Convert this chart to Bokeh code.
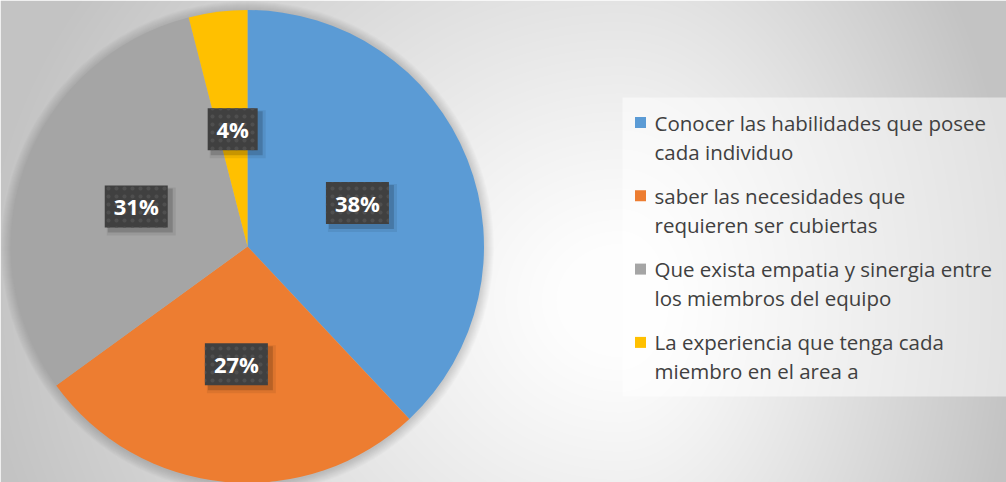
import numpy as np
from bokeh.plotting import figure
from bokeh.models import Range1d, ColumnDataSource
from bokeh.embed import file_html
from bokeh.resources import INLINE
from bokeh.core.properties import value

# ---- data ----
categories = [
    "Conocer las habilidades que posee cada individuo",
    "saber las necesidades que requieren ser cubiertas",
    "Que exista empatia y sinergia entre los miembros del equipo",
    "La experiencia que tenga cada miembro en el area a",
]
legend_line1 = ["Conocer las habilidades que posee", "saber las necesidades que",
                "Que exista empatia y sinergia entre", "La experiencia que tenga cada"]
legend_line2 = ["cada individuo", "requieren ser cubiertas",
                "los miembros del equipo", "miembro en el area a"]
values = [38, 27, 31, 4]
labels = ["38%", "27%", "31%", "4%"]
colors = ["#5B9BD5", "#ED7D31", "#A5A5A5", "#FFC000"]

# ---- figure (data units == screen pixels, y flipped via helper) ----
W, H = 1006, 482
p = figure(width=W, height=H, x_range=Range1d(0, W), y_range=Range1d(0, H),
           output_backend="svg", toolbar_location=None, min_border=0)
p.axis.visible = False
p.grid.visible = False
p.outline_line_color = None
p.background_fill_color = None
p.border_fill_color = None


def sy(Y):
    return H - np.asarray(Y, dtype=float)


# background gradient
Xs = np.arange(W) + 0.5
Ys = H - np.arange(H) - 0.5
XX, YY = np.meshgrid(Xs, Ys)
dx = XX - 620.0
dx = np.where(dx < 0, dx * 0.62, dx)
dy = (YY - 300.0) * 0.7
d = np.sqrt(dx ** 2 + dy ** 2)
t = np.clip((d - 40) / 360.0, 0, 1)
b = (253 - 58 * t ** 1.1).astype(np.uint8)
img = np.empty((H, W), dtype=np.uint32)
view = img.view(dtype=np.uint8).reshape((H, W, 4))
view[..., 0] = b
view[..., 1] = b
view[..., 2] = b
view[..., 3] = 255
p.image_rgba(image=[img], x=0, y=0, dw=W, dh=H)

# pie geometry
cx, cy, R = 247.0, float(sy(246)), 236.5

# soft shadow around pie
for k in range(1, 11):
    p.circle(x=cx, y=cy - 1, radius=R + k, fill_color="black", fill_alpha=0.014, line_color=None)

frac = np.array(values, dtype=float) / sum(values)
cum = np.concatenate([[0.0], np.cumsum(frac)])
start = np.pi / 2 - cum[:-1] * 2 * np.pi
end = np.pi / 2 - cum[1:] * 2 * np.pi
src = ColumnDataSource(dict(start=start, end=end, color=colors, cat=categories))
p.wedge(x=cx, y=cy, radius=R, start_angle="start", end_angle="end", direction="clock",
        fill_color="color", line_color=None, source=src)

# data labels
mid = (start + end) / 2
lx = cx + 0.5 * R * np.cos(mid)
ly = cy + 0.5 * R * np.sin(mid)
bw = np.array([24 + 13 * len(s) for s in labels], dtype=float)
lsrc = ColumnDataSource(dict(x=lx, y=ly, w=bw, t=labels))
p.rect(x=lx + 5, y=ly - 5, width=bw + 6, height=48, fill_color="black", fill_alpha=0.07, line_color=None)
p.rect(x=lx + 4, y=ly - 4, width=bw + 2, height=44, fill_color="black", fill_alpha=0.16, line_color=None)
p.rect(x="x", y="y", width="w", height=42, source=lsrc, fill_color="#404040", line_color=None,
       hatch_pattern="dot", hatch_color="#4f4f4f", hatch_scale=8, hatch_weight=1.5)
p.text(x="x", y="y", text="t", source=lsrc, text_font=value("Open Sans"), text_font_style="bold",
       text_font_size="22px", text_color="white", text_align="center", text_baseline="middle")

# legend
p.quad(left=622, right=W, top=sy(97), bottom=sy(396), fill_color="white", fill_alpha=0.5, line_color=None)
iy = 122 + 73.3 * np.arange(len(values))
p.rect(x=640, y=sy(iy), width=11, height=11, fill_color=colors, line_color=None)
p.text(x=654, y=sy(iy), text=legend_line1, text_font=value("Open Sans"), text_font_size="20.5px",
       text_color="#404040", text_align="left", text_baseline="middle")
p.text(x=654, y=sy(iy + 29), text=legend_line2, text_font=value("Open Sans"), text_font_size="20.5px",
       text_color="#404040", text_align="left", text_baseline="middle")

open("out.html", "w").write(file_html(p, INLINE))
